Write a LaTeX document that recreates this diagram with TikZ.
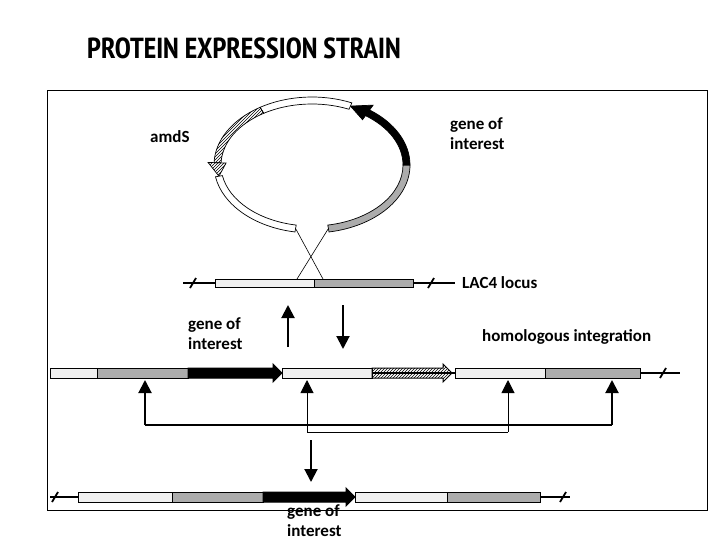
\documentclass[tikz,border=0pt]{standalone}
\usepackage{fontspec}
\setmainfont{Carlito}
\newfontfamily\titlefont{PT Sans Narrow}
\usetikzlibrary{patterns,arrows.meta,calc}
\begin{document}
\begin{tikzpicture}[x=1pt,y=-1pt,
  lbl/.style={font=\bfseries\fontsize{17}{20}\selectfont,align=left,inner sep=0pt},
  light/.style={draw=black,line width=1pt,fill=gray!12},
  dark/.style={draw=black,line width=1pt,fill=gray!65},
  gene/.style={draw=black,line width=1pt,fill=black},
  hatch/.style={draw=black,line width=1pt,pattern=north east lines},
  ring/.style={draw=black,line width=0.7pt},
  dna/.style={line width=1.2pt},
  bigarr/.style={line width=2pt,-{Triangle[width=13pt,length=13pt]}},
  brk/.style={line width=1.8pt}]
\useasboundingbox (0,0) rectangle (728,546);
\node[anchor=west,font=\titlefont\bfseries\fontsize{29}{33}\selectfont,inner sep=0pt] (title) at (87,48) {PROTEIN EXPRESSION STRAIN};
\draw[line width=0.8pt] (47,90) rectangle (707,510);
% plasmid ring (angles: positive = downward)
\coordinate (c) at (312,165);
\newcommand{\seg}[3]{\path[ring,#1] ($(c)+(#2:98 and 68)$) arc[start angle=#2,end angle=#3,x radius=98,y radius=68] -- ($(c)+(#3:91 and 61)$) arc[start angle=#3,end angle=#2,x radius=91,y radius=61] -- cycle;}
\newcommand{\tip}[4]{\path[ring,#1] ($(c)+(#2:86 and 56)$) -- ($(c)+(#3:94.5 and 64.5)$) -- ($(c)+(#2:104 and 74)$) -- ($(c)+(#2:98 and 68)$) -- ($(c)+(#2:91 and 61)$) -- cycle;}
\seg{fill=gray!65}{80}{0}
\seg{fill=black}{0}{-54}
\tip{fill=black}{-54}{-66}{}
\seg{fill=white}{-66}{-122}
\seg{pattern=north east lines}{-122}{-178}
\tip{pattern=north east lines}{182}{170}{}
\seg{fill=white}{170}{100}
\coordinate (gl) at ($(c)+(100:94.5 and 64.5)$);
\coordinate (gr) at ($(c)+(80:94.5 and 64.5)$);
% locus
\coordinate (lcL) at (183,283); \coordinate (lcR) at (455,283);
\draw[dna] (lcL) -- (lcR);
\draw[brk] (190,288) -- (196,278); \draw[brk] (428,288) -- (434,278);
\draw[light] (215,279) rectangle (314,287);
\draw[dark] (314,279) rectangle (413,287);
\coordinate (xl) at (297,279); \coordinate (xr) at (323,279);
\draw[line width=0.6pt] (gl) -- (xr);
\draw[line width=0.6pt] (gr) -- (xl);
\node[lbl,anchor=west] (lac) at (462,283) {LAC4 locus};
\node[lbl,anchor=west] (amds) at (150,137) {amdS};
\node[lbl,anchor=north west] (goi1) at (450,117) {gene of\\interest};
\node[lbl,anchor=north west] (goi2) at (188,317) {gene of\\interest};
\node[lbl,anchor=west] (hom) at (482,337) {homologous integration};
\coordinate (u1) at (288,347); \coordinate (u2) at (288,305);
\draw[bigarr] (u1) -- (u2);
\coordinate (d1) at (343,305); \coordinate (d2) at (343,349);
\draw[bigarr] (d1) -- (d2);
% row 2
\draw[dna] (50,373) -- (680,373);
\draw[brk] (660,378) -- (666,368);
\draw[light] (50,368) rectangle (97,378);
\draw[dark] (97,368) rectangle (188,378);
\draw[gene] (188,368) -- (273,368) -- (273,364) -- (282,373) -- (273,382) -- (273,378) -- (188,378) -- cycle;
\draw[light] (282,368) rectangle (372,378);
\draw[hatch] (372,368) -- (443,368) -- (443,364) -- (452,373) -- (443,382) -- (443,378) -- (372,378) -- cycle;
\draw[light] (455,368) rectangle (545,378);
\draw[dark] (545,368) rectangle (640,378);
\coordinate (a1) at (145,425); \coordinate (a1t) at (145,380);
\coordinate (a2) at (307,432); \coordinate (a2t) at (307,380);
\coordinate (a3) at (508,432); \coordinate (a3t) at (508,380);
\coordinate (a4) at (612,425); \coordinate (a4t) at (612,380);
\draw[line width=2pt] (a1) -- (a4);
\draw[line width=1pt] (a2) -- (a3);
\draw[bigarr] (a1) -- (a1t);
\draw[bigarr] (a4) -- (a4t);
\draw[line width=1pt,-{Triangle[width=13pt,length=13pt]}] (a2) -- (a2t);
\draw[line width=1pt,-{Triangle[width=13pt,length=13pt]}] (a3) -- (a3t);
\coordinate (e1) at (311,440); \coordinate (e2) at (311,482);
\draw[bigarr] (e1) -- (e2);
% row 3
\draw[dna] (50,497) -- (570,497);
\draw[brk] (52,502) -- (58,492); \draw[brk] (560,502) -- (566,492);
\draw[light] (78,492) rectangle (172,502);
\draw[dark] (172,492) rectangle (263,502);
\draw[gene] (263,492) -- (346,492) -- (346,488) -- (355,497) -- (346,506) -- (346,502) -- (263,502) -- cycle;
\draw[light] (355,492) rectangle (447,502);
\draw[dark] (447,492) rectangle (540,502);
\node[lbl,anchor=north west] (goi3) at (287,504) {gene of\\interest};
\end{tikzpicture}
\end{document}
